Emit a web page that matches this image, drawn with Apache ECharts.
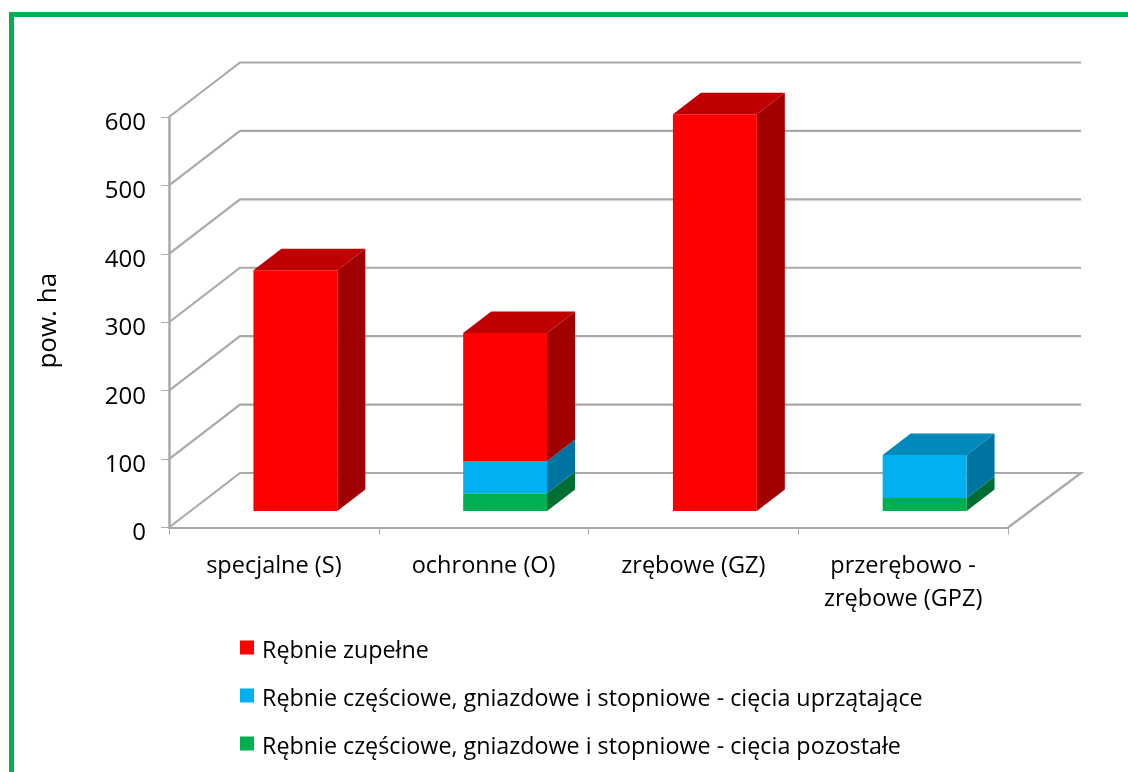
<!DOCTYPE html>
<html>
<head>
<meta charset="utf-8">
<title>pow. ha</title>
<script src="https://cdn.jsdelivr.net/npm/echarts@6/dist/echarts.min.js"></script>
<style>
  html, body { margin: 0; padding: 0; background: #fff; overflow: hidden; }
  #frame {
    position: absolute; left: 9px; top: 12px; right: 0; bottom: 0;
    border-top: 5px solid #00b050; border-left: 5px solid #00b050;
  }
  #chart { position: absolute; left: 0; top: 0; width: 1128px; height: 772px; }
</style>
</head>
<body>
<div id="frame"></div>
<div id="chart"></div>
<script>
// dane
const categories = ['specjalne (S)', 'ochronne (O)', 'zrębowe (GZ)', 'przerębowo -\nzrębowe (GPZ)']
const zupelne = [352, 187, 580, 0]
const uprzatajace = [0, 47, 0, 63]
const pozostale = [0, 26, 0, 19]
const yTicks = [0, 100, 200, 300, 400, 500, 600]

const nameZupelne = 'Rębnie zupełne'
const nameUprzatajace = 'Rębnie częściowe, gniazdowe i stopniowe - cięcia uprzątające'
const namePozostale = 'Rębnie częściowe, gniazdowe i stopniowe - cięcia pozostałe'

// glebokosc "3D"
const wallX = 71
const wallRightX = 73
const wallY = -54.5
const barShiftX = 21.5
const barShiftY = -16.5
const barDepthX = 28
const barDepthY = -21.5
const barShare = 0.4

const FONT = '"Open Sans", sans-serif'
const GREY = '#a9a9a9'

const chart = echarts.init(document.getElementById('chart'))

// siatka na scianie bocznej, tylnej i podlodze
function renderWall (params, api) {
  const rect = params.coordSys
  const y = api.coord([0, api.value(0)])[1]
  const left = rect.x
  const right = rect.x + rect.width
  const points = [[left, y], [left + wallX, y + wallY], [right + wallRightX, y + wallY]]
  if (api.value(0) === 0) points.push([right, y])
  return {
    type: 'polyline',
    shape: { points },
    style: { fill: null, stroke: GREY, lineWidth: 2.2 }
  }
}

// jeden odcinek slupka: przod, bok i ewentualnie gora
function makeBarRenderer (sideColor, topColor) {
  return function (params, api) {
    const idx = api.value(0)
    const from = api.value(1)
    const to = api.value(2)
    if (from === to) return { type: 'group', children: [] }
    const band = api.size([1, 0])[0]
    const w = band * barShare
    const p0 = api.coord([idx, from])
    const p1 = api.coord([idx, to])
    const x0 = p0[0] - w / 2 + barShiftX
    const x1 = x0 + w
    const yb = p0[1] + barShiftY
    const yt = p1[1] + barShiftY
    const children = [
      {
        type: 'polygon',
        shape: { points: [[x1, yb], [x1 + barDepthX, yb + barDepthY], [x1 + barDepthX, yt + barDepthY], [x1, yt]] },
        style: { fill: sideColor }
      },
      {
        type: 'rect',
        shape: { x: x0, y: yt, width: w, height: yb - yt },
        style: { fill: api.visual('color') }
      }
    ]
    if (api.value(3)) {
      children.push({
        type: 'polygon',
        shape: { points: [[x0, yt], [x0 + barDepthX, yt + barDepthY], [x1 + barDepthX, yt + barDepthY], [x1, yt]] },
        style: { fill: topColor }
      })
    }
    return { type: 'group', children }
  }
}

// [kategoria, od, do, czy wierzch]
const dataPozostale = categories.map((c, i) => [i, 0, pozostale[i], uprzatajace[i] + zupelne[i] === 0 ? 1 : 0])
const dataUprzatajace = categories.map((c, i) => [i, pozostale[i], pozostale[i] + uprzatajace[i], zupelne[i] === 0 ? 1 : 0])
const dataZupelne = categories.map((c, i) => [i, pozostale[i] + uprzatajace[i], pozostale[i] + uprzatajace[i] + zupelne[i], 1])

const option = {
  animation: false,
  textStyle: { fontFamily: FONT },
  grid: { left: 169, top: 117, width: 839, height: 410.5, containLabel: false },
  legend: {
    orient: 'vertical',
    left: 235,
    top: 627,
    itemWidth: 14,
    itemHeight: 14,
    itemGap: 17,
    icon: 'rect',
    data: [nameZupelne, nameUprzatajace, namePozostale],
    formatter: name => '{t|' + name + '}',
    textStyle: {
      rich: {
        t: { fontSize: 23.3, color: '#000', fontFamily: FONT, padding: [8, 0, 0, 3], lineHeight: 24 }
      }
    }
  },
  xAxis: {
    type: 'category',
    data: categories,
    axisLine: { lineStyle: { color: GREY, width: 2.2 } },
    axisTick: { show: true, length: 7, lineStyle: { color: GREY, width: 1 } },
    axisLabel: { color: '#000', fontSize: 23.5, lineHeight: 33, margin: 22, fontFamily: FONT, interval: 0 }
  },
  yAxis: {
    type: 'value',
    min: 0,
    max: 600,
    interval: 100,
    name: 'pow. ha',
    nameLocation: 'middle',
    nameRotate: 90,
    nameGap: 107,
    nameTextStyle: { color: '#000', fontSize: 26, fontFamily: FONT, padding: [0, 0, 0, 3] },
    splitLine: { show: false },
    axisLine: { show: true, lineStyle: { color: GREY, width: 2.5 } },
    axisTick: { show: true, length: 8, lineStyle: { color: GREY, width: 1 } },
    axisLabel: {
      margin: 23,
      formatter: '{n|{value}}',
      rich: {
        n: { color: '#000', fontSize: 24, fontFamily: FONT, padding: [12, 0, 0, 0] }
      }
    }
  },
  series: [
    {
      type: 'custom',
      name: 'siatka',
      coordinateSystem: 'cartesian2d',
      renderItem: renderWall,
      encode: { y: 0 },
      data: yTicks.map(v => [v]),
      z: 1,
      silent: true
    },
    {
      type: 'custom',
      name: namePozostale,
      renderItem: makeBarRenderer('#006e32', '#008a40'),
      encode: { x: 0, y: [1, 2] },
      data: dataPozostale,
      itemStyle: { color: '#00b050' },
      z: 2
    },
    {
      type: 'custom',
      name: nameUprzatajace,
      renderItem: makeBarRenderer('#0074a1', '#0089bb'),
      encode: { x: 0, y: [1, 2] },
      data: dataUprzatajace,
      itemStyle: { color: '#00b0f0' },
      z: 3
    },
    {
      type: 'custom',
      name: nameZupelne,
      renderItem: makeBarRenderer('#a00000', '#c00000'),
      encode: { x: 0, y: [1, 2] },
      data: dataZupelne,
      itemStyle: { color: '#ff0000' },
      z: 4
    }
  ]
}

chart.setOption(option)
</script>
</body>
</html>
